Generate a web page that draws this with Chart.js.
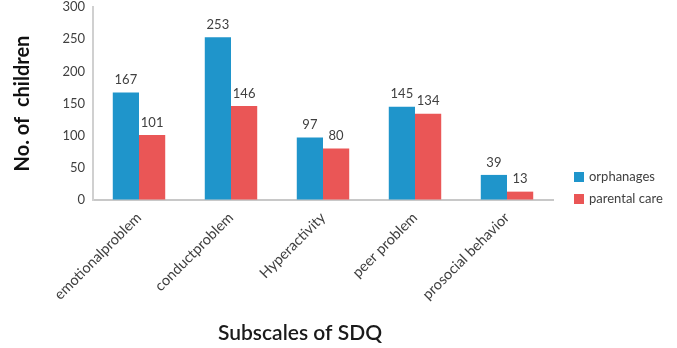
<!DOCTYPE html>
<html>
<head>
<meta charset="utf-8">
<script src="https://cdn.jsdelivr.net/npm/chart.js@4/dist/chart.umd.min.js"></script>
<style>
html,body{margin:0;padding:0;background:#fff;}
#wrap{width:677px;height:348px;position:relative;}
</style>
</head>
<body>
<div id="wrap"><canvas id="c" width="677" height="348"></canvas></div>
<script>
const categories = ["emotionalproblem", "conductproblem", "Hyperactivity", "peer problem", "prosocial behavior"];
const orphanages = [167, 253, 97, 145, 39];
const parentalCare = [101, 146, 80, 134, 13];
const seriesNames = ["orphanages", "parental care"];
const yTicks = [0, 50, 100, 150, 200, 250, 300];
const xTitle = "Subscales of SDQ";
const yTitle = "No. of  children";

const BLUE = "#1f95cb";
const RED = "#ea5656";

const valueLabels = {
  id: "valueLabels",
  afterDatasetsDraw(chart) {
    const ctx = chart.ctx;
    ctx.save();
    ctx.font = "13px Lato";
    ctx.fillStyle = "#404040";
    ctx.textAlign = "center";
    ctx.textBaseline = "bottom";
    chart.data.datasets.forEach((ds, i) => {
      chart.getDatasetMeta(i).data.forEach((bar, j) => {
        ctx.fillText(String(ds.data[j]), bar.x, bar.y - 6);
      });
    });
    ctx.restore();
  }
};

const sideLegend = {
  id: "sideLegend",
  afterDraw(chart) {
    const ctx = chart.ctx;
    ctx.save();
    ctx.font = "13px Lato";
    ctx.textBaseline = "middle";
    ctx.textAlign = "left";
    chart.data.datasets.forEach((ds, i) => {
      const y = 177 + i * 22;
      ctx.fillStyle = ds.backgroundColor;
      ctx.fillRect(574, y - 5, 10, 10);
      ctx.fillStyle = "#404040";
      ctx.fillText(ds.label, 589, y);
    });
    // x-axis title, centred like the reference
    ctx.font = "600 21px Lato";
    ctx.fillStyle = "#1a1a1a";
    ctx.textAlign = "center";
    ctx.fillText(xTitle, 300, 333);
    ctx.restore();
  }
};

new Chart(document.getElementById("c"), {
  type: "bar",
  data: {
    labels: categories,
    datasets: [
      { label: seriesNames[0], data: orphanages, backgroundColor: BLUE },
      { label: seriesNames[1], data: parentalCare, backgroundColor: RED }
    ]
  },
  options: {
    responsive: false,
    animation: false,
    devicePixelRatio: 1,
    layout: { padding: { top: 7, right: 124, left: 0, bottom: 0 } },
    datasets: { bar: { categoryPercentage: 0.57, barPercentage: 1.0 } },
    plugins: { legend: { display: false }, tooltip: { enabled: false } },
    scales: {
      x: {
        grid: { display: true, color: "rgba(0,0,0,0)", drawTicks: false },
        border: { display: true, color: "#c8c8c8", width: 2 },
        ticks: {
          font: { family: "Lato", size: 14.5 },
          color: "#404040",
          minRotation: 45,
          maxRotation: 45,
          padding: 9,
          autoSkip: false
        },
        title: { display: false },
        afterFit(scale) { scale.height = 148; scale.paddingLeft = 0; scale.paddingRight = 0; }
      },
      y: {
        min: 0,
        max: 300,
        afterBuildTicks(scale) { scale.ticks = yTicks.map(v => ({ value: v })); },
        grid: { display: true, color: "rgba(0,0,0,0)", drawTicks: false },
        border: { display: true, color: "#d0d0d0", width: 2 },
        ticks: {
          font: { family: "Lato", size: 13 },
          color: "#404040",
          padding: 8
        },
        title: {
          display: true,
          text: yTitle,
          font: { family: "Lato", size: 20, weight: "bold" },
          color: "#111",
          padding: { top: 11, bottom: 0 }
        },
        afterFit(scale) { scale.width = 93; scale.paddingTop = 0; scale.paddingBottom = 0; }
      }
    }
  },
  plugins: [valueLabels, sideLegend]
});
</script>
</body>
</html>
